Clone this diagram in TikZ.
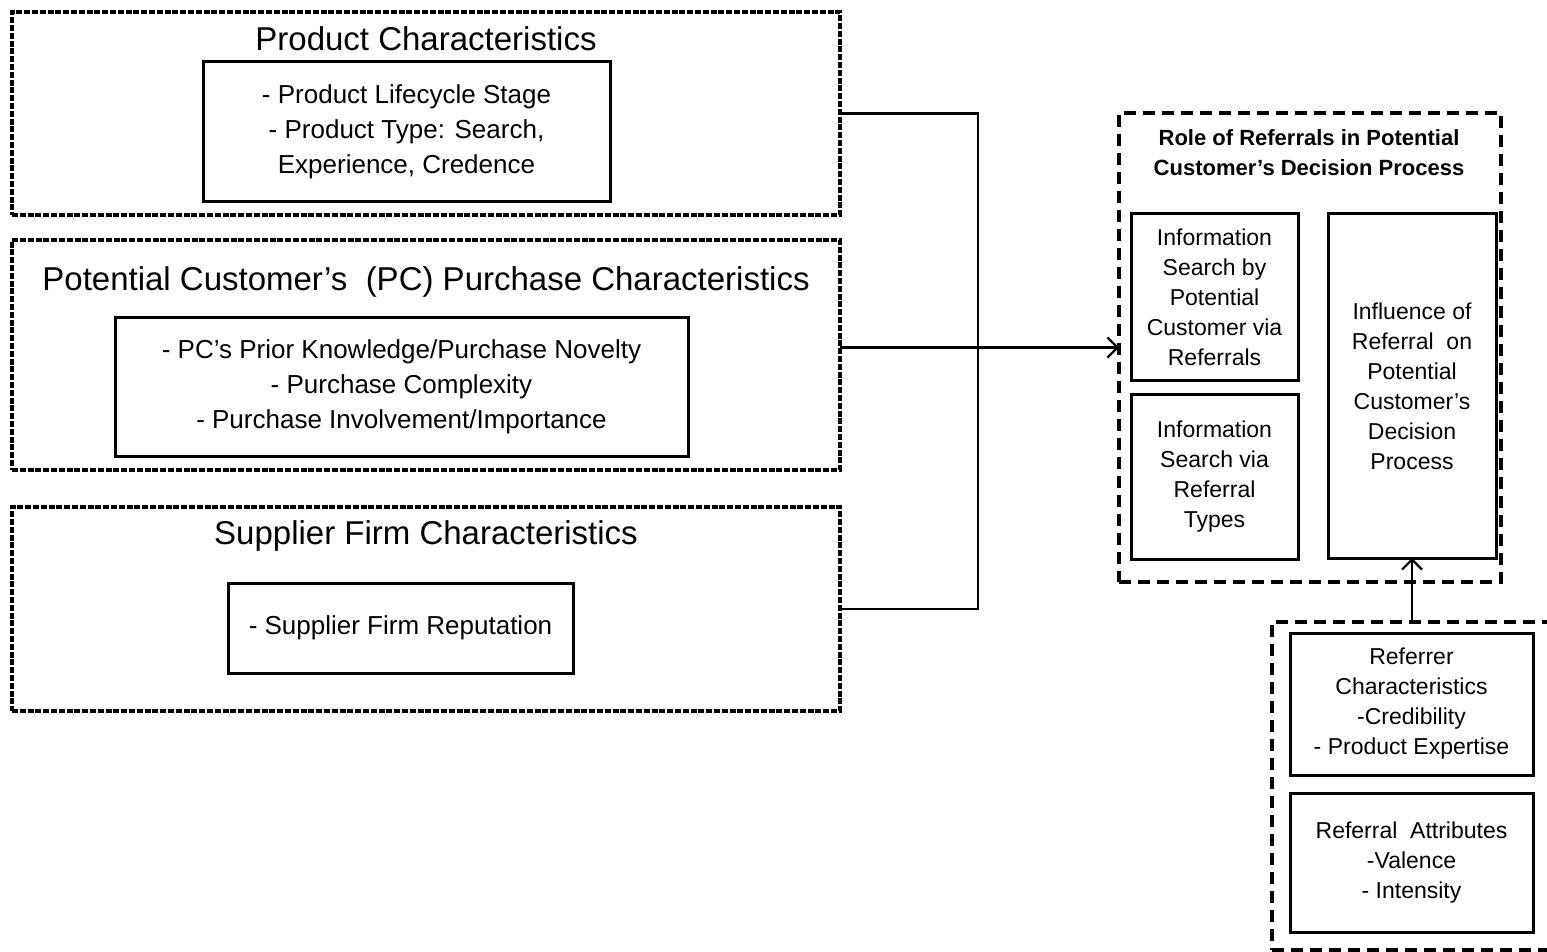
\documentclass[tikz,border=0pt]{standalone}
\usepackage{fontspec}
\setmainfont{Liberation Sans}
\usetikzlibrary{arrows.meta}
\begin{document}
\begin{tikzpicture}[x=0.5pt,y=-0.5pt,
  finedash/.style={draw, line width=1.7pt, dash pattern=on 3pt off 0.9pt, inner sep=0pt, outer sep=0pt},
  longdash/.style={draw, line width=1.6pt, dash pattern=on 6pt off 3.5pt, inner sep=0pt, outer sep=0pt},
  itembox/.style={draw, line width=1.5pt, inner sep=0pt, outer sep=0pt, align=center},
  heading/.style={font=\fontsize{16.5}{20}\selectfont, inner sep=0pt},
  bigtext/.style={font=\fontsize{13}{17.5}\selectfont},
  smalltext/.style={font=\fontsize{11.5}{15}\selectfont},
  link/.style={line width=1.1pt},
  arr/.style={link, -{Straight Barb[length=5pt,width=10pt,line width=1.1pt]}}
]
\clip (0,0) rectangle (1547,952);
\fill[white] (0,0) rectangle (1547,952);

% left column: three characteristic groups
\node[finedash, minimum width=414pt, minimum height=101.5pt] (pc) at (426,113.5) {};
\node[heading] (pct) at (426,38.5) {Product Characteristics};
\node[itembox, bigtext, minimum width=203.5pt, minimum height=70pt] (pci) at (406.5,132)
  {\raisebox{-1.5pt}{\parbox{200pt}{\centering - Product Lifecycle Stage\\- Product Type: Search,\\Experience, Credence}}};

\node[finedash, minimum width=414pt, minimum height=115pt] (pcp) at (426,355) {};
\node[heading] (pcpt) at (426,281.5) {Potential Customer’s \ (PC) Purchase Characteristics};
\node[itembox, bigtext, minimum width=286.5pt, minimum height=69.5pt] (pcpi) at (401.5,386.5)
  {\raisebox{-1.5pt}{\parbox{280pt}{\centering - PC’s Prior Knowledge/Purchase Novelty\\- Purchase Complexity\\- Purchase Involvement/Importance}}};

\node[finedash, minimum width=414pt, minimum height=102pt] (sfc) at (426,609) {};
\node[heading] (sfct) at (426,535.5) {Supplier Firm Characteristics};
\node[itembox, bigtext, minimum width=172.5pt, minimum height=45pt] (sfci) at (400.5,628)
  {\raisebox{-1.5pt}{- Supplier Firm Reputation}};

% role of referrals group
\node[longdash, minimum width=191pt, minimum height=234.5pt] (role) at (1310,347.5) {};
\node[font=\fontsize{11}{15}\selectfont\bfseries, align=center] (rolet) at (1309,153)
  {Role of Referrals in Potential\\Customer’s Decision Process};
\node[itembox, smalltext, minimum width=83.5pt, minimum height=83pt] (isp) at (1214.5,297)
  {Information\\Search by\\Potential\\Customer via\\Referrals};
\node[itembox, smalltext, minimum width=83.5pt, minimum height=82.5pt] (ist) at (1214.5,477)
  {Information\\Search via\\Referral\\Types};
\node[itembox, smalltext, minimum width=84pt, minimum height=172pt] (infl) at (1412,386)
  {Influence of\\Referral \ on\\Potential\\Customer’s\\Decision\\Process};

% referrer / referral group
\node[longdash, minimum width=150pt, minimum height=164pt] (ref) at (1422,786) {};
\node[itembox, smalltext, minimum width=121.5pt, minimum height=71pt] (rch) at (1411.5,704)
  {\raisebox{-1.5pt}{\parbox{118pt}{\centering Referrer\\Characteristics\\-Credibility\\- Product Expertise}}};
\node[itembox, smalltext, minimum width=121.5pt, minimum height=69.5pt] (rat) at (1411.5,862.5)
  {\raisebox{-1.5pt}{\parbox{118pt}{\centering Referral \ Attributes\\-Valence\\- Intensity}}};

% connectors
\coordinate (join) at (978,360);
\draw[link] (pc.east) -| (join |- sfc.east) -- (sfc.east);
\draw[arr] (pcp.east |- role.west) -- (role.west);
\draw[arr, line width=1.4pt] (infl.south |- ref.north) -- (infl.south);
\end{tikzpicture}
\end{document}
